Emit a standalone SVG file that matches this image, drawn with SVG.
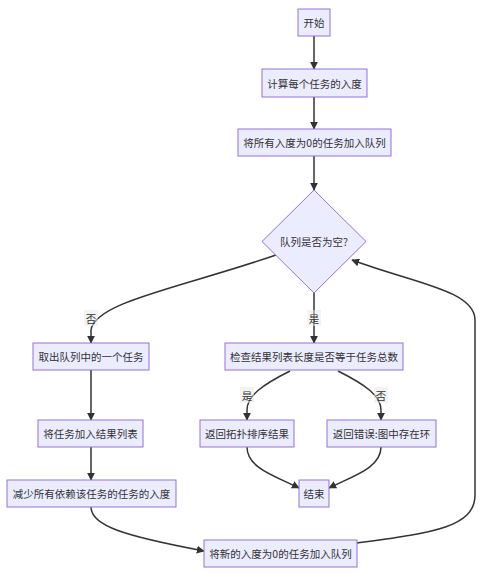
<svg xmlns="http://www.w3.org/2000/svg" width="500" height="586" viewBox="0 0 500 586">
<style>
.node rect, .node polygon { fill: #ECECFF; stroke: #9370DB; stroke-width: 1; }
text { font-family: "Noto Sans CJK SC", "Noto Sans", "Liberation Sans", sans-serif; font-size: 10.5px; fill: #333333; text-anchor: middle; dominant-baseline: central; }
.edge { fill: none; stroke: #333333; stroke-width: 1.5; marker-end: url(#arrow); }
.lbl rect { fill: #e8e8e8; fill-opacity: 0.5; }
</style>
<defs>
<marker id="arrow" viewBox="0 0 10 10" refX="9" refY="5" markerUnits="userSpaceOnUse" markerWidth="8" markerHeight="8" orient="auto">
<path d="M0,0 L10,5 L0,10 z" fill="#333333"/>
</marker>
</defs>
<rect width="500" height="586" fill="#ffffff"/>
<g id="connectors">
<path class="edge" d="M314,36 L314,69"/>
<path class="edge" d="M314,97 L314,129"/>
<path class="edge" d="M314,156 L314,190"/>
<path class="edge" d="M276,255 C180,288 95,302 91,330 L91,343"/>
<path class="edge" d="M314,293 L314,343"/>
<path class="edge" d="M290,371 C262,385 247,396 247,410 L247,420"/>
<path class="edge" d="M338,371 C366,385 381,396 381,410 L381,420"/>
<path class="edge" d="M247,447 C247,468 275,476 299,488"/>
<path class="edge" d="M381,447 C381,468 353,476 329,488"/>
<path class="edge" d="M91,370 L91,420"/>
<path class="edge" d="M91,447 L91,480"/>
<path class="edge" d="M91,507 C91,526 125,536 204,551"/>
<path class="edge" d="M357,543 C430,533 475,528 475,495 L475,320 C475,290 410,282 352,260"/>
<g class="lbl"><rect x="84" y="310" width="14" height="16"/><text x="91" y="318">否</text></g>
<g class="lbl"><rect x="307" y="310" width="14" height="16"/><text x="314" y="318">是</text></g>
<g class="lbl"><rect x="240" y="387" width="14" height="16"/><text x="247" y="395">是</text></g>
<g class="lbl"><rect x="374" y="387" width="14" height="16"/><text x="381" y="395">否</text></g>
</g>
<g id="start" class="node"><rect x="298" y="9" width="32" height="27"/><text x="314" y="22.5">开始</text></g>
<g id="calc" class="node"><rect x="262" y="69" width="105" height="28"/><text x="314.5" y="83">计算每个任务的入度</text></g>
<g id="init" class="node"><rect x="238" y="129" width="153" height="27"/><text x="314.5" y="142.5">将所有入度为0的任务加入队列</text></g>
<g id="empty" class="node"><polygon points="314,190 366,241.5 314,293 262,241.5"/><text x="314" y="241.5">队列是否为空?</text></g>
<g id="take" class="node"><rect x="33" y="343" width="116" height="27"/><text x="91" y="356.5">取出队列中的一个任务</text></g>
<g id="check" class="node"><rect x="225" y="343" width="178" height="27"/><text x="314" y="356.5">检查结果列表长度是否等于任务总数</text></g>
<g id="add" class="node"><rect x="38" y="420" width="105" height="27"/><text x="90.5" y="433.5">将任务加入结果列表</text></g>
<g id="ok" class="node"><rect x="200" y="420" width="94" height="27"/><text x="247" y="433.5">返回拓扑排序结果</text></g>
<g id="err" class="node"><rect x="327" y="420" width="109" height="27"/><text x="381.5" y="433.5">返回错误:图中存在环</text></g>
<g id="dec" class="node"><rect x="7" y="480" width="169" height="27"/><text x="91.5" y="493.5">减少所有依赖该任务的任务的入度</text></g>
<g id="end" class="node"><rect x="299" y="480" width="30" height="27"/><text x="314" y="493.5">结束</text></g>
<g id="push" class="node"><rect x="204" y="540" width="153" height="27"/><text x="280.5" y="553.5">将新的入度为0的任务加入队列</text></g>
</svg>
